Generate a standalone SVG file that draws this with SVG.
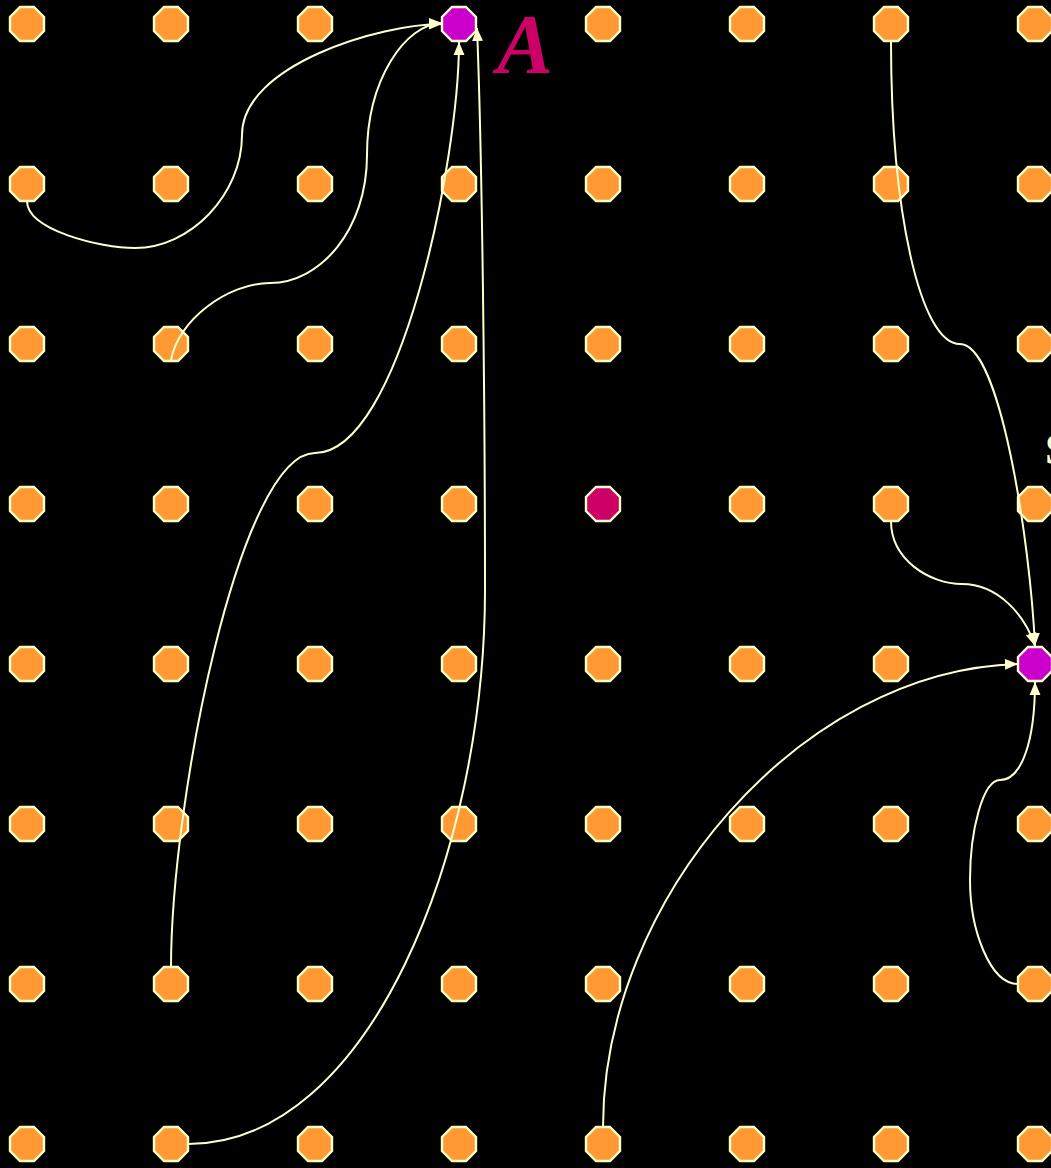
<svg xmlns="http://www.w3.org/2000/svg" xmlns:xlink="http://www.w3.org/1999/xlink" width="1051" height="1168" viewBox="0 0 1051 1168">
<style>
.node use{fill:#ff9933;stroke:#ffffcc;stroke-width:2.4}
.node.hl use{fill:#cc00cc}
.node.red use{fill:#cc0066}
.edge{fill:none;stroke:#ffffcc;stroke-width:2;marker-end:url(#arr)}
</style>
<defs>
<polygon id="oct" points="7,-17 17,-7 17,7 7,17 -7,17 -17,7 -17,-7 -7,-17"/>
<marker id="arr" markerUnits="userSpaceOnUse" markerWidth="14" markerHeight="12" refX="13" refY="5.5" orient="auto" viewBox="0 0 14 11">
<path d="M0,0 L13,5.5 L0,11 z" fill="#ffffcc"/>
</marker>
</defs>
<rect width="1051" height="1168" fill="#000"/>
<g id="n-0-0" class="node"><use href="#oct" x="27" y="24"/></g>
<g id="n-0-1" class="node"><use href="#oct" x="171" y="24"/></g>
<g id="n-0-2" class="node"><use href="#oct" x="315" y="24"/></g>
<g id="n-0-3" class="node hl"><use href="#oct" x="459" y="24"/></g>
<g id="n-0-4" class="node"><use href="#oct" x="603" y="24"/></g>
<g id="n-0-5" class="node"><use href="#oct" x="747" y="24"/></g>
<g id="n-0-6" class="node"><use href="#oct" x="891" y="24"/></g>
<g id="n-0-7" class="node"><use href="#oct" x="1035" y="24"/></g>
<g id="n-1-0" class="node"><use href="#oct" x="27" y="184"/></g>
<g id="n-1-1" class="node"><use href="#oct" x="171" y="184"/></g>
<g id="n-1-2" class="node"><use href="#oct" x="315" y="184"/></g>
<g id="n-1-3" class="node"><use href="#oct" x="459" y="184"/></g>
<g id="n-1-4" class="node"><use href="#oct" x="603" y="184"/></g>
<g id="n-1-5" class="node"><use href="#oct" x="747" y="184"/></g>
<g id="n-1-6" class="node"><use href="#oct" x="891" y="184"/></g>
<g id="n-1-7" class="node"><use href="#oct" x="1035" y="184"/></g>
<g id="n-2-0" class="node"><use href="#oct" x="27" y="344"/></g>
<g id="n-2-1" class="node"><use href="#oct" x="171" y="344"/></g>
<g id="n-2-2" class="node"><use href="#oct" x="315" y="344"/></g>
<g id="n-2-3" class="node"><use href="#oct" x="459" y="344"/></g>
<g id="n-2-4" class="node"><use href="#oct" x="603" y="344"/></g>
<g id="n-2-5" class="node"><use href="#oct" x="747" y="344"/></g>
<g id="n-2-6" class="node"><use href="#oct" x="891" y="344"/></g>
<g id="n-2-7" class="node"><use href="#oct" x="1035" y="344"/></g>
<g id="n-3-0" class="node"><use href="#oct" x="27" y="504"/></g>
<g id="n-3-1" class="node"><use href="#oct" x="171" y="504"/></g>
<g id="n-3-2" class="node"><use href="#oct" x="315" y="504"/></g>
<g id="n-3-3" class="node"><use href="#oct" x="459" y="504"/></g>
<g id="n-3-4" class="node red"><use href="#oct" x="603" y="504"/></g>
<g id="n-3-5" class="node"><use href="#oct" x="747" y="504"/></g>
<g id="n-3-6" class="node"><use href="#oct" x="891" y="504"/></g>
<g id="n-3-7" class="node"><use href="#oct" x="1035" y="504"/></g>
<g id="n-4-0" class="node"><use href="#oct" x="27" y="664"/></g>
<g id="n-4-1" class="node"><use href="#oct" x="171" y="664"/></g>
<g id="n-4-2" class="node"><use href="#oct" x="315" y="664"/></g>
<g id="n-4-3" class="node"><use href="#oct" x="459" y="664"/></g>
<g id="n-4-4" class="node"><use href="#oct" x="603" y="664"/></g>
<g id="n-4-5" class="node"><use href="#oct" x="747" y="664"/></g>
<g id="n-4-6" class="node"><use href="#oct" x="891" y="664"/></g>
<g id="n-4-7" class="node hl"><use href="#oct" x="1035" y="664"/></g>
<g id="n-5-0" class="node"><use href="#oct" x="27" y="824"/></g>
<g id="n-5-1" class="node"><use href="#oct" x="171" y="824"/></g>
<g id="n-5-2" class="node"><use href="#oct" x="315" y="824"/></g>
<g id="n-5-3" class="node"><use href="#oct" x="459" y="824"/></g>
<g id="n-5-4" class="node"><use href="#oct" x="603" y="824"/></g>
<g id="n-5-5" class="node"><use href="#oct" x="747" y="824"/></g>
<g id="n-5-6" class="node"><use href="#oct" x="891" y="824"/></g>
<g id="n-5-7" class="node"><use href="#oct" x="1035" y="824"/></g>
<g id="n-6-0" class="node"><use href="#oct" x="27" y="984"/></g>
<g id="n-6-1" class="node"><use href="#oct" x="171" y="984"/></g>
<g id="n-6-2" class="node"><use href="#oct" x="315" y="984"/></g>
<g id="n-6-3" class="node"><use href="#oct" x="459" y="984"/></g>
<g id="n-6-4" class="node"><use href="#oct" x="603" y="984"/></g>
<g id="n-6-5" class="node"><use href="#oct" x="747" y="984"/></g>
<g id="n-6-6" class="node"><use href="#oct" x="891" y="984"/></g>
<g id="n-6-7" class="node"><use href="#oct" x="1035" y="984"/></g>
<g id="n-7-0" class="node"><use href="#oct" x="27" y="1144"/></g>
<g id="n-7-1" class="node"><use href="#oct" x="171" y="1144"/></g>
<g id="n-7-2" class="node"><use href="#oct" x="315" y="1144"/></g>
<g id="n-7-3" class="node"><use href="#oct" x="459" y="1144"/></g>
<g id="n-7-4" class="node"><use href="#oct" x="603" y="1144"/></g>
<g id="n-7-5" class="node"><use href="#oct" x="747" y="1144"/></g>
<g id="n-7-6" class="node"><use href="#oct" x="891" y="1144"/></g>
<g id="n-7-7" class="node"><use href="#oct" x="1035" y="1144"/></g>
<g id="connectors">
<path class="edge" d="M27,201 C27,230 100,248 135,248 C190,248 242,195 242,135 C242,65 380,24 442,24"/>
<path class="edge" d="M171,360 C178,320 228,283 270,283 C320,283 367,230 367,155 C367,80 405,24 442,23"/>
<path class="edge" d="M171,968 C171,800 240,453 315,453 C400,453 459,160 459,42"/>
<path class="edge" d="M188,1144 C370,1144 485,850 485,590 C485,400 482,150 477,28"/>
<path class="edge" d="M891,41 C891,210 920,344 960,344 C1000,344 1030,540 1035,646"/>
<path class="edge" d="M891,521 C891,560 930,584 962,584 C998,584 1025,615 1035,646"/>
<path class="edge" d="M603,1127 C603,900 800,670 1018,664"/>
<path class="edge" d="M1018,984 C990,984 970,930 970,880 C970,830 983,780 1000,780 C1022,780 1035,740 1035,682"/>
</g>
<text x="497" y="73" font-family="Liberation Serif, serif" font-size="84" font-style="italic" font-weight="bold" fill="#cc0066">A</text>
<text x="1045" y="464" font-family="Liberation Serif, serif" font-size="44" font-weight="bold" fill="#ffffcc">S</text>
</svg>
